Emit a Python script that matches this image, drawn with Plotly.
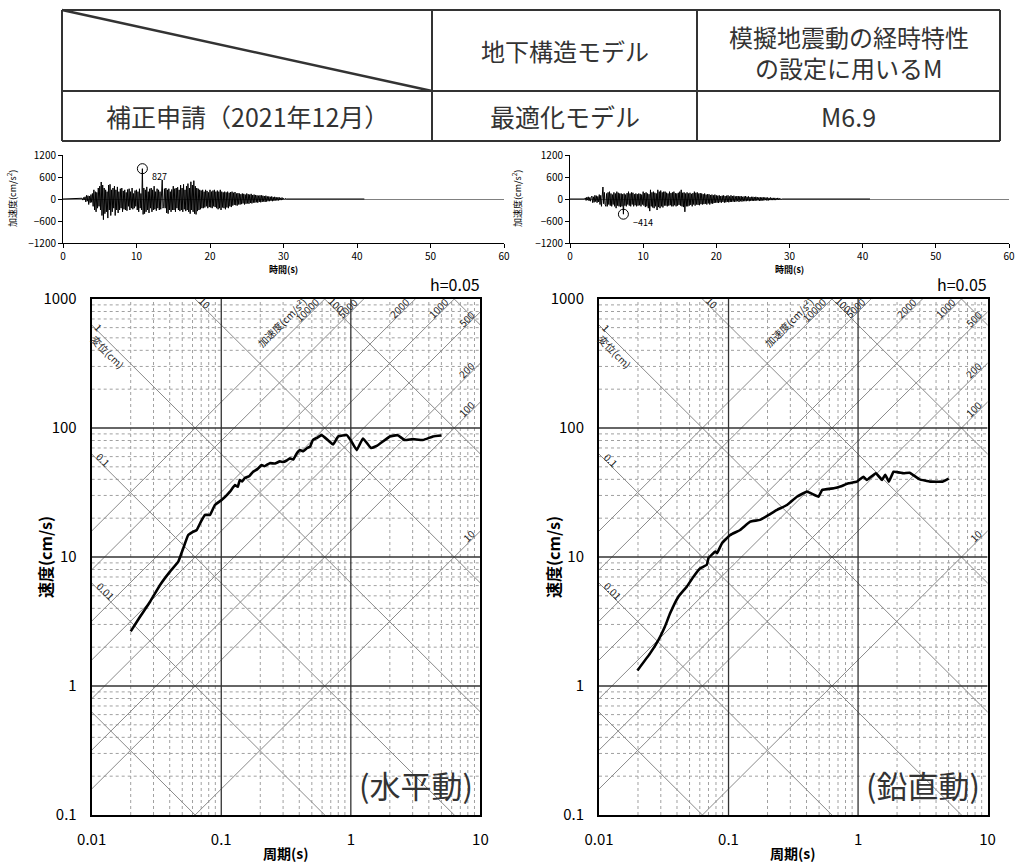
import math
import numpy as np
import plotly.graph_objects as go

W, H = 1015, 862

# ---------------- data ----------------
header_model = "地下構造モデル"
header_m_lines = ["模擬地震動の経時特性", "の設定に用いるM"]
row_cells = ["補正申請（2021年12月）", "最適化モデル", "M6.9"]

dt = 0.1
t_end = 41.0

t0_h = 2.5
acc_h = [
    0, 20, -30, 40, -20,
    60, -80, 100, -60, 90, -150, 80, -100, 120, -90,
    150, -200, 250, -300, 200, -350, 180, -250, 300, -200,
    350, -300, 464, -450, 380, -564, 300, -400, 250, -350,
    200, -520, 380, -300, 400, -450, 250, -350, 300, -250,
    350, -450, 250, -300, 330, -380, 200, -300, 280, -250,
    300, -350, 220, -280, 250, -300, 180, -320, 260, -200,
    280, -300, 200, -250, 300, -280, 150, -250, 230, -200,
    250, -300, 200, -350, 280, -250, 150, -300, 827, -420,
    300, -400, 250, -350, 330, -300, 200, -380, 280, -250,
    300, -350, 250, -300, 350, -280, 200, -320, 280, -250,
    250, -300, 200, -280, 300, 520, -250, -200, 280, -250,
    300, -380, 250, -400, 280, -300, 200, -350, 260, -300,
    350, -300, 280, -350, 300, -250, 320, -300, 250, -330,
    380, -300, 300, -350, 400, -280, 250, -330, 350, -300,
    420, -350, 300, -400, 470, -300, 380, -350, 500, -400,
    350, -420, 300, -330, 280, -300, 250, -280, 230, -250,
    250, -250, 200, -230, 250, -200, 220, -250, 180, -220,
    250, -230, 200, -250, 230, -200, 250, -220, 200, -250,
    230, -280, 200, -250, 250, -300, 200, -230, 180, -250,
    200, -280, 180, -230, 200, -250, 170, -200, 190, -220,
    200, -180, 170, -160, 190, -170, 150, -180, 160, -150,
    150, -150, 130, -140, 150, -120, 140, -150, 120, -130,
    150, -120, 130, -130, 120, -110, 140, -120, 110, -100,
    120, -100, 110, -90, 100, -100, 90, -80, 100, -90,
    100, -80, 90, -70, 80, -80, 90, -70, 70, -60,
    70, -60, 60, -50, 70, -60, 50, -50, 60, -40,
    50, -40, 40, -40, 50, -30, 30, -30, 40, -20,
    20, -10, 10, -5, 0,
]

t0_v = 2.0
acc_v = [
    0, 30, -40, 50, -30, 60, -50, 40, -60, 50,
    80, -100, 60, -90, 100, -70, 90, -100, 70, -80,
    120, -150, 100, -200, 150, 327, -130, 180, -150, -200,
    150, -200, 180, -150, 200, -180, 150, -200, 120, -150,
    180, -200, 150, -250, 200, -180, 170, -200, 150, -220,
    150, -200, 130, -414, 150, -180, 120, -200, 160, -150,
    200, -180, 150, -200, 180, -150, 170, -200, 130, -170,
    150, -200, 130, -180, 150, -170, 140, -200, 120, -150,
    200, -180, 160, -220, 180, -200, 150, -250, 130, -330,
    250, -200, 180, -230, 200, -250, 170, -200, 150, -300,
    250, -220, 200, -250, 230, -200, 180, -230, 200, -180,
    200, -180, 170, -200, 150, -180, 200, -170, 160, -200,
    180, -200, 200, -170, 160, -200, 150, -180, 170, -160,
    200, -180, 250, -200, 170, -220, 180, -350, 150, -200,
    180, -200, 150, -180, 170, -160, 140, -200, 160, -150,
    200, -180, 170, -150, 180, -160, 150, -170, 160, -140,
    150, -150, 130, -140, 150, -130, 120, -150, 130, -120,
    130, -150, 110, -120, 120, -130, 100, -110, 120, -100,
    100, -100, 90, -110, 100, -90, 80, -100, 90, -80,
    100, -100, 80, -90, 90, -80, 100, -90, 70, -80,
    100, -80, 80, -70, 90, -80, 70, -70, 80, -60,
    80, -80, 70, -60, 80, -70, 60, -60, 70, -60,
    80, -60, 60, -50, 70, -60, 50, -50, 60, -50,
    60, -50, 50, -50, 60, -40, 50, -40, 40, -50,
    50, -50, 40, -40, 50, -40, 40, -30, 40, -40,
    40, -40, 30, -30, 40, -30, 30, -30, 30, -30,
    30, -30, 20, -20, 30, -20, 20, -20, 10, -10,
    0,
]

period_h = [0.020, 0.0236, 0.0282, 0.0337, 0.0402, 0.0466, 0.0509, 0.0556, 0.0600,
            0.0646, 0.070, 0.0749, 0.0818, 0.0893, 0.1006, 0.108, 0.1167, 0.1275,
            0.134, 0.139, 0.145, 0.152, 0.165, 0.176, 0.19, 0.205, 0.215, 0.237,
            0.26, 0.283, 0.30, 0.32, 0.339, 0.36, 0.38, 0.405, 0.43, 0.46, 0.485,
            0.51, 0.55, 0.594, 0.67, 0.73, 0.80, 0.93, 1.0, 1.11, 1.24, 1.43, 1.6,
            2.0, 2.3, 2.6, 3.0, 3.6, 4.3, 5.0]
sv_h = [2.65, 3.44, 4.5, 6.07, 7.7, 9.2, 11.7, 14.8, 15.6,
        16.2, 19.0, 21.2, 21.2, 25.3, 27.7, 29.5, 32.1, 36.1,
        35.0, 39.5, 38.5, 40.9, 42.5, 45.8, 48.0, 51.6, 50.5, 53.4,
        53.0, 55.1, 54.5, 56.0, 58.2, 57.0, 63.0, 67.4, 66.0, 70.0, 71.8,
        81, 84, 88, 80, 74.6, 86, 88, 80, 67.4, 83, 70, 73,
        86, 88, 80.7, 82, 80.7, 86, 87.5]

period_v = [0.0198, 0.0248, 0.0288, 0.0323, 0.0354, 0.041, 0.0476, 0.0536, 0.0605,
            0.068, 0.07, 0.079, 0.0815, 0.089, 0.103, 0.123, 0.147, 0.175, 0.204,
            0.237, 0.283, 0.337, 0.403, 0.495, 0.527, 0.65, 0.73, 0.843, 0.98,
            1.1, 1.17, 1.37, 1.53, 1.62, 1.73, 1.88, 2.25, 2.5, 2.99, 3.6, 4.5, 5.0]
sv_v = [1.32, 1.79, 2.28, 2.89, 3.66, 4.92, 5.89, 7.03, 8.17,
        8.7, 9.8, 11.0, 10.7, 12.8, 14.8, 16.2, 18.8, 19.4, 21.2,
        23.2, 25.3, 29.3, 32.1, 29.3, 33.0, 34.1, 35.2, 37.3, 38.4,
        41.9, 39.5, 44.6, 39.5, 43.4, 38.4, 45.8, 44.6, 45.0, 40.0, 38.4, 38.4, 40.5]

disp_vals = [0.001, 0.01, 0.1, 1, 10, 100, 1000]
acc_vals = [10, 100, 200, 500, 1000, 2000, 5000, 10000]
disp_label_vals = [0.01, 0.1, 1, 10, 100]
disp_label_text = ["0.01", "0.1", "1", "10", "100"]
acc_label_vals = [10, 100, 200, 500, 1000, 2000, 5000, 10000]

time_ticks = [0, 10, 20, 30, 40, 50, 60]
acc_ticks = [-1200, -600, 0, 600, 1200]
per_ticks = [0.01, 0.1, 1, 10]
per_ticktext = ["0.01", "0.1", "1", "10"]
vel_ticks = [0.1, 1, 10, 100, 1000]
vel_ticktext = ["0.1", "1", "10", "100", "1000"]

# ---------------- helpers ----------------
FONT = "Noto Sans CJK JP, Noto Sans, sans-serif"
TWO_PI = 2 * math.pi
R2 = math.sqrt(2)


def px(x):
    return x / W


def py(y):
    return 1 - y / H


fig = go.Figure()
annotations = []
shapes = []


def add_time(xa, ya, t0, vals):
    t = [0.0] + [t0 + dt * i for i in range(len(vals))] + [t_end]
    v = [0.0] + list(vals) + [0.0]
    fig.add_trace(go.Scatter(x=t, y=v, xaxis=xa, yaxis=ya, mode="lines",
                             line=dict(color="black", width=1), hoverinfo="skip",
                             showlegend=False))
    arr = np.array(vals, dtype=float)
    k = int(np.argmax(np.abs(arr)))
    tp, vp = t0 + dt * k, arr[k]
    fig.add_trace(go.Scatter(x=[tp], y=[vp], xaxis=xa, yaxis=ya, mode="markers",
                             marker=dict(symbol="circle-open", size=10, color="black",
                                         line=dict(width=1)),
                             hoverinfo="skip", showlegend=False))
    annotations.append(dict(xref=xa, yref=ya, x=tp, y=vp,
                            text=f"{vp:.0f}".replace("-", "−"), showarrow=False,
                            xanchor="left", yanchor="middle", xshift=8, yshift=-8,
                            font=dict(size=9, color="black", family=FONT)))


def add_spectrum(xa, ya, per, sv):
    # minor grid
    mx, my = [], []
    for dec in [0.01, 0.1, 1]:
        for m in range(2, 10):
            mx += [m * dec, m * dec, None]
            my += [0.1, 1000, None]
    for dec in [0.1, 1, 10, 100]:
        for m in range(2, 10):
            mx += [0.01, 10, None]
            my += [m * dec, m * dec, None]
    fig.add_trace(go.Scatter(x=mx, y=my, xaxis=xa, yaxis=ya, mode="lines",
                             line=dict(color="#a0a0a0", width=1, dash="dot"),
                             hoverinfo="skip", showlegend=False))
    # diagonal lines
    dx_, dy_ = [], []
    for D in disp_vals:
        dx_ += [1e-4, 1e3, None]
        dy_ += [TWO_PI * D / 1e-4, TWO_PI * D / 1e3, None]
    for A in acc_vals:
        dx_ += [1e-4, 1e3, None]
        dy_ += [A * 1e-4 / TWO_PI, A * 1e3 / TWO_PI, None]
    fig.add_trace(go.Scatter(x=dx_, y=dy_, xaxis=xa, yaxis=ya, mode="lines",
                             line=dict(color="#8a8a8a", width=1),
                             hoverinfo="skip", showlegend=False))
    # major grid
    gx, gy = [], []
    for v in [0.1, 1]:
        gx += [v, v, None]
        gy += [0.1, 1000, None]
    for v in [1, 10, 100]:
        gx += [0.01, 10, None]
        gy += [v, v, None]
    fig.add_trace(go.Scatter(x=gx, y=gy, xaxis=xa, yaxis=ya, mode="lines",
                             line=dict(color="#333333", width=1.3),
                             hoverinfo="skip", showlegend=False))
    # response curve
    fig.add_trace(go.Scatter(x=per, y=sv, xaxis=xa, yaxis=ya, mode="lines",
                             line=dict(color="black", width=2.6, shape="spline",
                                       smoothing=0.3),
                             hoverinfo="skip", showlegend=False))

    def lab(T, SV, text, angle, sx, sy, size=10):
        annotations.append(dict(xref=xa, yref=ya, x=math.log10(T), y=math.log10(SV),
                                text=text, textangle=angle, showarrow=False,
                                xshift=sx, yshift=sy,
                                font=dict(size=size, color="#222", family=FONT)))

    # acceleration labels (lines rising to the right)
    for A in acc_label_vals:
        Ttop = TWO_PI * 1000 / A
        if Ttop <= 10:
            T, SV = Ttop, 1000
        else:
            T, SV = 10, A * 10 / TWO_PI
        s = len(str(A)) * 2.8 + 6
        p = 5
        lab(T, SV, str(A), -45, (-s - p) / R2, (-s + p) / R2)
    # acceleration axis caption along 10000 line
    A = max(acc_vals)
    s, p = 47, 14
    lab(TWO_PI * 1000 / A, 1000, "加速度(cm/s²)", -45, (-s - p) / R2, (-s + p) / R2)
    # displacement labels (lines falling to the right)
    for D, txt in zip(disp_label_vals, disp_label_text):
        SVl = TWO_PI * D / 0.01
        if SVl <= 1000:
            T, SV = 0.01, SVl
        else:
            T, SV = TWO_PI * D / 1000, 1000
        s = len(txt) * 2.8 + 4
        p = 4
        lab(T, SV, txt, 45, (s + p) / R2, (-s + p) / R2)
    s, p = 30, -8
    lab(0.01, TWO_PI * 1 / 0.01, "変位(cm)", 45, (s + p) / R2, (-s + p) / R2)


add_time("x", "y", t0_h, acc_h)
add_time("x2", "y2", t0_v, acc_v)
add_spectrum("x3", "y3", period_h, sv_h)
add_spectrum("x4", "y4", period_v, sv_v)

# ---------------- axes ----------------
time_L_x = [px(63), px(504)]
time_R_x = [px(570), px(1009)]
time_y = [py(243), py(155)]
spec_L_x = [px(91.7), px(480.4)]
spec_R_x = [px(599), px(987.6)]
spec_y = [py(815), py(299)]

ax_time = dict(range=[0, 60], tickvals=time_ticks, showline=True, linecolor="black",
               linewidth=1, ticks="outside", ticklen=4, tickcolor="black",
               tickfont=dict(size=10, family=FONT), showgrid=False, zeroline=False,
               fixedrange=True, automargin=False)
ay_time = dict(range=[-1200, 1200], tickvals=acc_ticks, showline=True, linecolor="black",
               linewidth=1, ticks="outside", ticklen=4, tickcolor="black",
               tickfont=dict(size=10, family=FONT), showgrid=False, zeroline=True,
               zerolinecolor="#808080", zerolinewidth=1, fixedrange=True, automargin=False)
ax_spec = dict(type="log", range=[-2, 1], tickvals=per_ticks, ticktext=per_ticktext,
               showline=True, mirror=True, linecolor="black", linewidth=2,
               ticks="outside", ticklen=10, tickcolor="rgba(0,0,0,0)",
               tickfont=dict(size=15, family=FONT), showgrid=False, zeroline=False,
               automargin=False)
ay_spec = dict(type="log", range=[-1, 3], tickvals=vel_ticks, ticktext=vel_ticktext,
               showline=True, mirror=True, linecolor="black", linewidth=2,
               ticks="outside", ticklen=10, tickcolor="rgba(0,0,0,0)",
               tickfont=dict(size=15, family=FONT), showgrid=False, zeroline=False,
               automargin=False)

layout_axes = dict(
    xaxis=dict(domain=time_L_x, anchor="y", **ax_time),
    yaxis=dict(domain=time_y, anchor="x", **ay_time),
    xaxis2=dict(domain=time_R_x, anchor="y2", **ax_time),
    yaxis2=dict(domain=time_y, anchor="x2", **ay_time),
    xaxis3=dict(domain=spec_L_x, anchor="y3", **ax_spec),
    yaxis3=dict(domain=spec_y, anchor="x3", **ay_spec),
    xaxis4=dict(domain=spec_R_x, anchor="y4", **ax_spec),
    yaxis4=dict(domain=spec_y, anchor="x4", **ay_spec),
)


# ---------------- axis titles & captions ----------------
def paper_text(x, y, text, size, angle=0, color="black", xanchor="center", yanchor="middle"):
    annotations.append(dict(xref="paper", yref="paper", x=px(x), y=py(y), text=text,
                            textangle=angle, showarrow=False, xanchor=xanchor,
                            yanchor=yanchor, font=dict(size=size, color=color, family=FONT)))


for xl, xc in [(12, 283.5), (517, 789.5)]:
    paper_text(xl, 199, "加速度(cm/s<sup>2</sup>)", 9, angle=-90)
    paper_text(xc, 270, "<b>時間(s)</b>", 9)

for (xl, xc, xr, cap) in [(45, 286, 481, "(水平動)"), (553, 793, 988, "(鉛直動)")]:
    paper_text(xl, 557, "<b>速度(cm/s)</b>", 16, angle=-90)
    paper_text(xc, 853, "<b>周期(s)</b>", 14)
    paper_text(xr + 1, 298, "h=0.05", 16, xanchor="right", yanchor="bottom")
    paper_text(xr - 6, 809, cap, 31, color="#333", xanchor="right", yanchor="bottom")

# ---------------- table ----------------
tb_left, tb_right = 62, 1000
tb_top, tb_mid, tb_bot = 10, 91, 141
col1, col2 = 432, 697


def tline(x0, y0, x1, y1, w=2):
    shapes.append(dict(type="line", xref="paper", yref="paper", x0=px(x0), y0=py(y0),
                       x1=px(x1), y1=py(y1), line=dict(color="#333", width=w)))


tline(tb_left, tb_top, tb_right, tb_top)
tline(tb_left, tb_bot, tb_right, tb_bot)
tline(tb_left, tb_mid, tb_right, tb_mid)
tline(tb_left, tb_top, tb_left, tb_bot)
tline(tb_right, tb_top, tb_right, tb_bot)
tline(col1, tb_top, col1, tb_bot)
tline(col2, tb_top, col2, tb_bot)
tline(tb_left, tb_top, col1, tb_mid, w=2.5)

centers = [(tb_left + col1) / 2, (col1 + col2) / 2, (col2 + tb_right) / 2]
paper_text(centers[1], (tb_top + tb_mid) / 2, header_model, 24, color="#333")
paper_text(centers[2], 36, header_m_lines[0], 24, color="#333")
paper_text(centers[2], 67, header_m_lines[1], 24, color="#333")
for c, txt in zip(centers, row_cells):
    paper_text(c, (tb_mid + tb_bot) / 2, txt, 25, color="#333")

fig.update_layout(
    width=W, height=H,
    margin=dict(l=0, r=0, t=0, b=0, pad=0, autoexpand=False),
    paper_bgcolor="white", plot_bgcolor="white",
    font=dict(family=FONT, color="black"),
    showlegend=False,
    annotations=annotations,
    shapes=shapes,
    **layout_axes,
)

fig.write_html("out.html", config={"displayModeBar": False, "staticPlot": True},
               post_script="document.body.style.margin='0';document.body.style.padding='0';")
